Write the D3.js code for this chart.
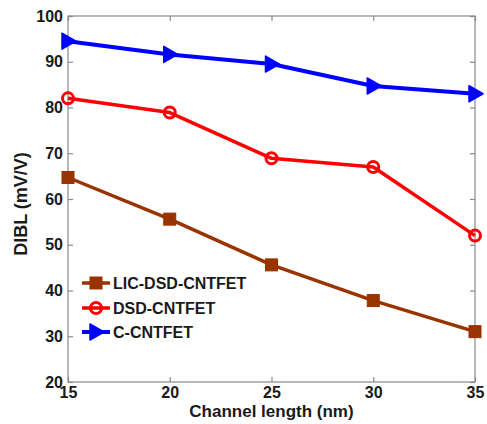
<!DOCTYPE html>
<html>
<head>
<meta charset="utf-8">
<script src="https://cdn.jsdelivr.net/npm/d3@7"></script>
<style>
html,body{margin:0;padding:0;background:#fff;}
text{font-family:"Liberation Sans",Arial,sans-serif;font-weight:bold;}
</style>
</head>
<body>
<svg id="chart" width="487" height="424"></svg>
<script>
const channelLength = [15, 20, 25, 30, 35];
const licDsd = [64.7, 55.6, 45.6, 37.8, 31.0];
const dsd = [82.0, 78.9, 68.9, 67.0, 52.0];
const cCnt = [94.5, 91.6, 89.5, 84.7, 83.0];
const seriesNames = ["LIC-DSD-CNTFET", "DSD-CNTFET", "C-CNTFET"];
const xTicks = [15, 20, 25, 30, 35];
const yTicks = [20, 30, 40, 50, 60, 70, 80, 90, 100];

const svg = d3.select("#chart");
const L = 68, R = 475, T = 16, B = 382;
const x = d3.scaleLinear().domain([15, 35]).range([L, R]);
const y = d3.scaleLinear().domain([20, 100]).range([B, T]);

const frame = "#8a8a8a";
// frame
svg.append("rect").attr("x", L).attr("y", T).attr("width", R - L).attr("height", B - T)
  .attr("fill", "none").attr("stroke", frame).attr("stroke-width", 1.2);

// axes (inner ticks)
const gx = svg.append("g").attr("transform", `translate(0,${B})`)
  .call(d3.axisBottom(x).tickValues(xTicks).tickSizeInner(-5).tickSizeOuter(0).tickPadding(10));
const gxt = svg.append("g").attr("transform", `translate(0,${T})`)
  .call(d3.axisTop(x).tickValues(xTicks).tickSizeInner(-5).tickSizeOuter(0).tickFormat(""));
const gy = svg.append("g").attr("transform", `translate(${L},0)`)
  .call(d3.axisLeft(y).tickValues(yTicks).tickSizeInner(-5).tickSizeOuter(0).tickPadding(10));
const gyr = svg.append("g").attr("transform", `translate(${R},0)`)
  .call(d3.axisRight(y).tickValues(yTicks).tickSizeInner(-5).tickSizeOuter(0).tickFormat(""));
[gx, gxt, gy, gyr].forEach(g => {
  g.select(".domain").remove();
  g.selectAll(".tick line").attr("stroke", frame).attr("stroke-width", 1.2);
  g.selectAll("text").attr("font-size", 16).attr("fill", "#1a1a1a")
    .attr("font-family", "Liberation Sans, Arial, sans-serif").attr("font-weight", "bold");
});
gx.selectAll("text").attr("dy", "0.71em").attr("y", 5);
gy.selectAll("text").attr("x", -5);

// axis titles
svg.append("text").attr("x", (L + R) / 2).attr("y", 417).attr("text-anchor", "middle")
  .attr("font-size", 17).attr("fill", "#1a1a1a").text("Channel length (nm)");
svg.append("text").attr("transform", "translate(27,204) rotate(-90)").attr("text-anchor", "middle")
  .attr("font-size", 18).attr("fill", "#1a1a1a").text("DIBL (mV/V)");

const series = [
  {name: seriesNames[0], vals: licDsd, color: "#993300", marker: "square", w: 3.5},
  {name: seriesNames[1], vals: dsd, color: "#ff0000", marker: "circle", w: 3.5},
  {name: seriesNames[2], vals: cCnt, color: "#0000ff", marker: "tri", w: 4}
];

function drawMarker(g, type, color, cx, cy, scale) {
  const s = scale || 1;
  if (type === "square") {
    g.append("rect").attr("x", cx - 6 * s).attr("y", cy - 6 * s).attr("width", 12 * s).attr("height", 12 * s)
      .attr("fill", color).attr("stroke", color).attr("stroke-width", 1);
  } else if (type === "circle") {
    g.append("circle").attr("cx", cx).attr("cy", cy).attr("r", 5.5 * s)
      .attr("fill", "none").attr("stroke", color).attr("stroke-width", 3);
  } else {
    const p = [[cx - 6 * s, cy - 8 * s], [cx + 8 * s, cy], [cx - 6 * s, cy + 8 * s]];
    g.append("path").attr("d", "M" + p.map(d => d.join(",")).join("L") + "Z")
      .attr("fill", color).attr("stroke", color).attr("stroke-width", 1.5).attr("stroke-linejoin", "round");
  }
}

const line = d3.line().x((d, i) => x(channelLength[i])).y(d => y(d));
series.forEach(s => {
  const g = svg.append("g");
  g.append("path").datum(s.vals).attr("d", line).attr("fill", "none")
    .attr("stroke", s.color).attr("stroke-width", s.w).attr("stroke-linejoin", "round");
  s.vals.forEach((v, i) => drawMarker(g, s.marker, s.color, x(channelLength[i]), y(v)));
});

// legend
const legY = [283, 308, 332];
series.forEach((s, i) => {
  const g = svg.append("g");
  g.append("line").attr("x1", 82).attr("x2", 110).attr("y1", legY[i]).attr("y2", legY[i])
    .attr("stroke", s.color).attr("stroke-width", s.w);
  drawMarker(g, s.marker, s.color, 96, legY[i]);
  g.append("text").attr("x", 113).attr("y", legY[i]).attr("dy", "0.36em")
    .attr("font-size", 16).attr("fill", "#1a1a1a").text(s.name);
});
</script>
</body>
</html>
